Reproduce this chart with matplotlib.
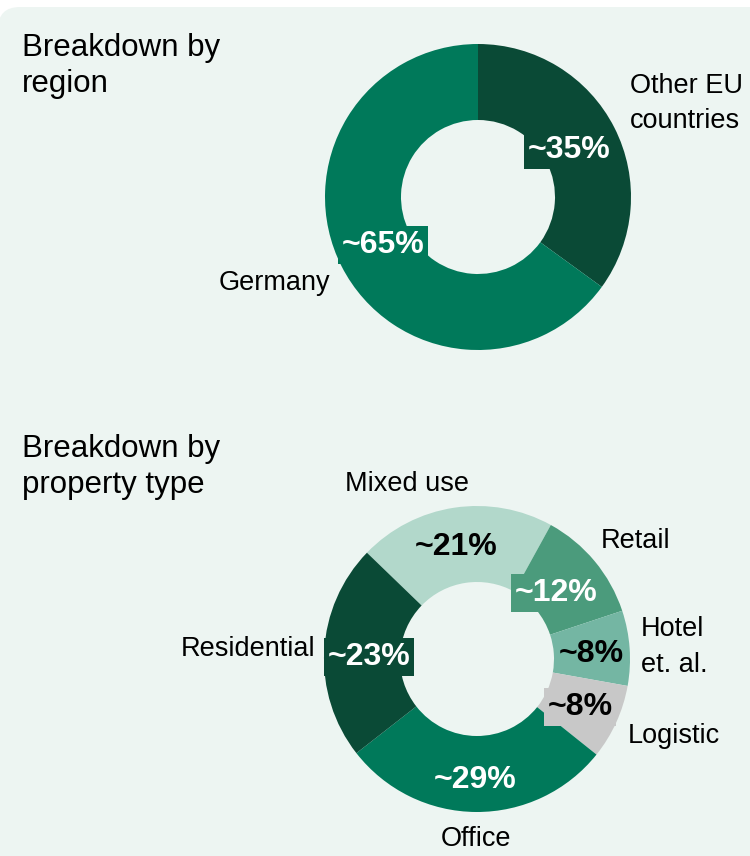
import matplotlib.pyplot as plt
from matplotlib.patches import FancyBboxPatch

plt.rcParams['font.family'] = ['Liberation Sans', 'DejaVu Sans']

# region split
region_labels = ["Other EU\ncountries", "Germany"]
region_values = [35, 65]
region_colors = ["#0a4a36", "#00795a"]

# property type split (clockwise from the Residential/Mixed use boundary)
type_labels = ["Mixed use", "Retail", "Hotel\net. al.", "Logistic", "Office", "Residential"]
type_values = [21, 12, 8, 8, 29, 23]
type_colors = ["#b2d8cb", "#4b9b7c", "#74b6a3", "#c8c8c8", "#00795a", "#0a4a36"]
type_text = ["black", "white", "black", "black", "white", "white"]

W, H = 750, 856
BG = "#edf5f2"


def Y(p):
    # pixel row from the top -> data y
    return H - p


fig = plt.figure(figsize=(W / 100, H / 100), dpi=100)
ax = fig.add_axes([0, 0, 1, 1])

ax.add_patch(FancyBboxPatch((-2, Y(900)), W + 30, 893,
                            boxstyle="round,pad=0,rounding_size=22",
                            fc=BG, ec="none", zorder=0))

wp = dict(width=76, linewidth=0)
ax.pie(region_values, colors=region_colors, startangle=90, counterclock=False,
       radius=153, center=(478, Y(197)), wedgeprops=wp, frame=True)
ax.pie(type_values, colors=type_colors, startangle=136, counterclock=False,
       radius=153, center=(477, Y(659)), wedgeprops=wp, frame=True)

ax.set_xlim(0, W)
ax.set_ylim(0, H)
ax.set_aspect("auto")
ax.axis("off")

title_kw = dict(fontsize=22.5, ha="left", va="center", linespacing=1.26, color="black")
ax.text(22, Y(66), "Breakdown by\nregion", **title_kw)
ax.text(22, Y(467), "Breakdown by\nproperty type", **title_kw)

cat_kw = dict(fontsize=19.5, color="black", linespacing=1.45)
pct_kw = dict(fontsize=23, fontweight="bold", ha="center", va="center")


def pct_label(x, y, value, color, fc):
    ax.text(x, Y(y), f"~{value}%", color=color,
            bbox=dict(boxstyle="square,pad=0.11", fc=fc, ec="none"), **pct_kw)


# region labels
ax.text(630, Y(103), region_labels[0], ha="left", va="center", **cat_kw)
ax.text(274, Y(283), region_labels[1], ha="center", va="center", **cat_kw)
pct_label(569, 150, region_values[0], "white", region_colors[0])
pct_label(383, 245, region_values[1], "white", region_colors[1])

# property type labels
cat_pos = [(407, 484, "center"), (636, 541, "center"), (641, 647, "left"),
           (674, 736, "center"), (476, 839, "center"), (248, 649, "center")]
pct_pos = [(456, 547), (556, 593), (591, 654), (580, 707), (475, 780), (369, 657)]
for lab, val, col, tc, (cx, cy, ha), (px, py) in zip(
        type_labels, type_values, type_colors, type_text, cat_pos, pct_pos):
    ax.text(cx, Y(cy), lab, ha=ha, va="center", **cat_kw)
    pct_label(px, py, val, tc, col)

fig.savefig("out.png", dpi=100, facecolor="white")
